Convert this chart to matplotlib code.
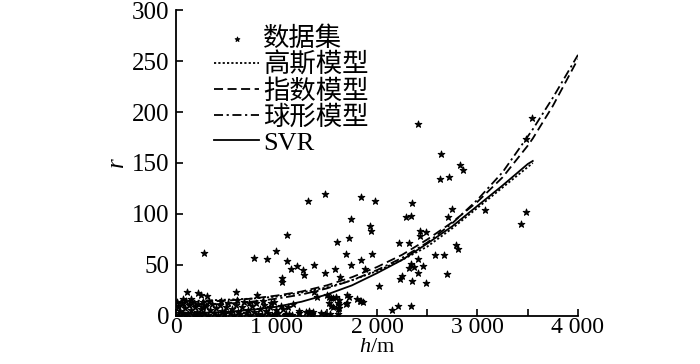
import matplotlib
matplotlib.use("Agg")
import matplotlib.pyplot as plt
from matplotlib.ticker import MultipleLocator

plt.rcParams['font.family'] = ['Liberation Serif', 'Noto Sans CJK SC']
plt.rcParams['mathtext.fontset'] = 'custom'
plt.rcParams['mathtext.it'] = 'Liberation Serif:italic'
plt.rcParams['mathtext.rm'] = 'Liberation Serif'

# ---------------------------------------------------------------------------
# data
# ---------------------------------------------------------------------------
scatter_x = [
    276, 773, 908, 998, 1105, 1108, 1141, 1201, 1264, 1277, 1052, 1052, 1313, 1483,
    1376, 1486, 1579, 1605, 1688, 1718, 1738, 1745, 1844, 1841, 1930, 1943, 1950, 1980,
    1629, 2408, 2640, 2630, 2716, 2829, 2853, 2351, 2289, 2342, 2746, 2706, 3071, 3539,
    3479, 3483, 3433, 2431, 2487, 2428, 2222, 2315, 2783, 2803, 2577, 2670, 2411, 2335,
    2315, 2365, 2455, 2408, 2700, 2252, 2229, 2351, 2491, 2020, 1884, 1841, 2152, 2206,
    2335, 1705, 1724, 1804, 1831, 1519, 1542, 1625, 1619, 1619, 1542, 1615, 985, 1095,
    1128, 1227, 1327, 1350, 1443, 1483, 1532, 1701, 1612, 1612, 1519, 1559, 1565, 1499,
    1167, 1062, 1224, 1294, 1326, 1366, 1373, 1400, 1592, 1692, 1857,
    113, 222, 245, 311, 597, 809,
    10, 25, 40, 55, 70, 85, 100, 115, 130, 145, 160, 175, 190, 205, 220, 235, 250, 265,
    280, 300, 320, 340, 360, 380, 400, 420, 440, 460, 480, 500, 520, 540, 560, 580, 600,
    620, 640, 660, 680, 700, 720, 740, 760, 780, 800, 820, 840, 860, 880, 900, 920, 940,
    960, 980, 1000, 1020, 1040, 1080, 30, 65, 150, 90, 200, 270, 330, 450, 610, 730, 870,
    950, 1110, 1150,
]
scatter_y = [
    62, 57, 56, 64, 79, 54, 46, 49, 45, 40, 37, 33, 113, 120,
    50, 42, 46, 73, 61, 76, 95, 50, 117, 55, 88, 83, 61, 113,
    38, 188, 159, 134, 136, 148, 143, 111, 97, 98, 105, 97, 104, 194,
    174, 102, 90, 83, 82, 78, 72, 72, 70, 66, 60, 60, 56, 51,
    47, 48, 49, 42, 41, 39, 36, 34, 32, 29, 46, 15, 6, 10,
    10, 21, 19, 17, 15, 19, 18, 16, 11, 8, 10, 2, 2, 2,
    2, 3, 3, 2, 3, 2, 2, 13, 13, 7, 13, 9, 18, 21,
    12, 7, 5, 4, 5, 4, 24, 19, 19, 12, 14,
    24, 23, 21, 20, 24, 21,
    14, 9, 5, 12, 3, 8, 15, 2, 11, 6, 13, 1, 9, 4, 12, 2, 7, 14,
    3, 10, 1, 6, 12, 3, 8, 1, 11, 5, 2, 9, 13, 3, 7, 1, 11,
    4, 2, 9, 14, 3, 6, 1, 10, 4, 13, 2, 7, 1, 11, 5, 3, 9,
    1, 14, 6, 3, 10, 1, 1, 17, 17, 1, 1, 9, 15, 15, 16, 13, 15,
    13, 9, 1,
]

# model curves (h in m, r)
curve_h = [0, 250, 500, 750, 1000, 1250, 1500, 1750, 2000, 2250, 2500, 2750,
           3000, 3250, 3500, 3550, 3750, 4000]
r_exp = [13, 14, 15, 17, 20, 24, 30, 38, 48, 60, 75, 92,
         112, 136, 167, 174, 206, 252]
r_sph = [10, 11, 12, 14, 17, 21, 27, 35, 45, 57, 72, 91,
         114, 141, 176, 183, 214, 256]
r_gauss = [15, 15, 16, 17, 19, 23, 28, 35, 44, 55, 68, 86,
           106, 126, 146, 150]
r_svr = [3, 3, 4, 6, 9, 14, 21, 30, 42, 55, 71, 88,
         108, 128, 149, 152]

x_ticks = [0, 1000, 2000, 3000, 4000]
x_ticklabels = ["0", "1 000", "2 000", "3 000", "4 000"]
y_ticks = [0, 50, 100, 150, 200, 250, 300]

# ---------------------------------------------------------------------------
# figure
# ---------------------------------------------------------------------------
fig = plt.figure(figsize=(7.0, 3.64), dpi=100)
ax = fig.add_axes([0.2514, 0.1319, 0.5743, 0.8406])

ax.scatter(scatter_x, scatter_y, marker="*", s=26, color="black",
           edgecolors="black", linewidths=0.7, label="数据集", zorder=3)
ax.plot(curve_h[:len(r_gauss)], r_gauss, color="black", lw=1.3,
        linestyle=(0, (1.2, 1.2)), label="高斯模型")
ax.plot(curve_h, r_exp, color="black", lw=1.3,
        linestyle=(0, (5, 2.5)), label="指数模型")
ax.plot(curve_h, r_sph, color="black", lw=1.3,
        linestyle=(0, (5, 2, 1.2, 2)), label="球形模型")
ax.plot(curve_h[:len(r_svr)], r_svr, color="black", lw=1.3,
        linestyle="-", label="SVR")

ax.set_xlim(0, 4000)
ax.set_ylim(0, 300)
ax.set_xticks(x_ticks)
ax.set_xticklabels(x_ticklabels)
ax.xaxis.set_minor_locator(MultipleLocator(500))
ax.set_yticks(y_ticks)

for side in ("top", "right"):
    ax.spines[side].set_visible(False)
for side in ("left", "bottom"):
    ax.spines[side].set_linewidth(1.3)
ax.tick_params(axis="both", which="both", direction="in", length=5,
               width=1.2, labelsize=18)
ax.tick_params(axis="y", pad=5)
ax.tick_params(axis="x", pad=1, labelsize=17)

ax.set_xlabel(r"$h$/m", fontsize=16, labelpad=0)
ax.set_ylabel(r"$r$", fontsize=18, labelpad=2)

leg = ax.legend(loc="upper left", bbox_to_anchor=(0.095, 0.947), frameon=False,
                fontsize=19, handlelength=1.7, handletextpad=0.15,
                labelspacing=0.06, borderpad=0.0, borderaxespad=0.0,
                markerscale=0.7)

fig.savefig("out.png", dpi=100)
